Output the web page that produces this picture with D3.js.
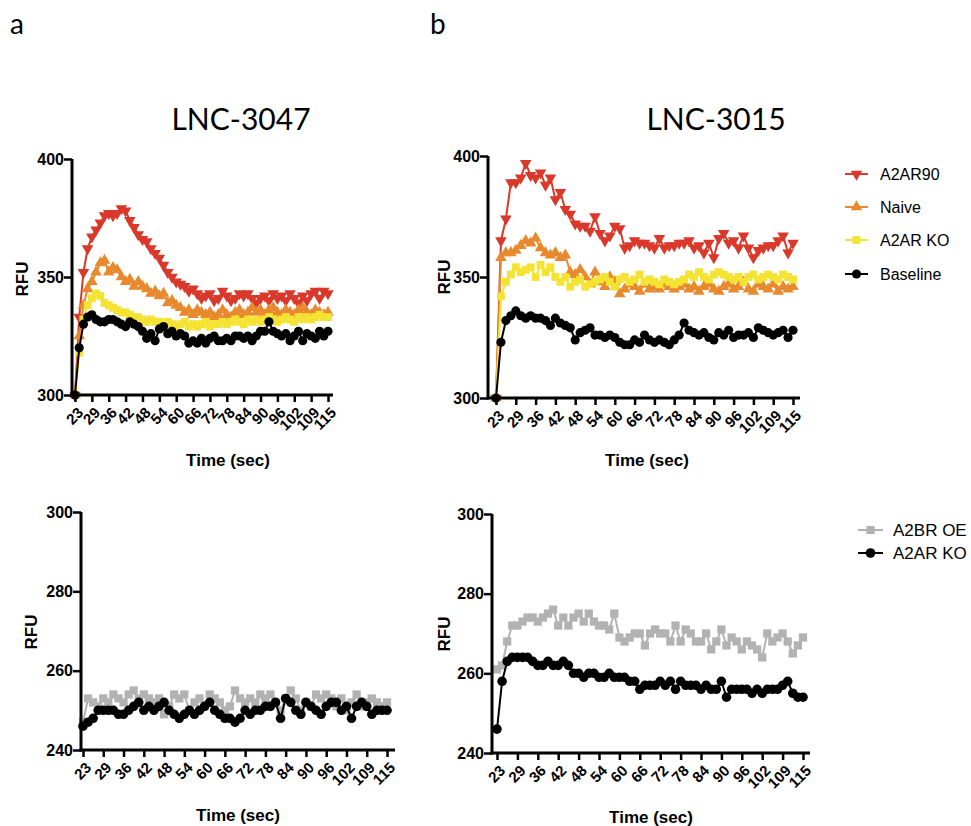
<!DOCTYPE html>
<html>
<head>
<meta charset="utf-8">
<script src="https://cdn.jsdelivr.net/npm/d3@7"></script>
<style>
  html, body { margin: 0; padding: 0; background: #fff; }
  svg { display: block; }
</style>
</head>
<body>
<svg id="chart" width="971" height="826"></svg>
<script>
// ---------------- DATA ----------------
const timeLabels = ["23","29","36","42","48","54","60","66","72","78","84","90","96","102","109","115"];
const timeTickIndex = [0,4,8,12,16,20,24,28,32,36,40,44,48,52,56,60];

const topYTicks = [300, 350, 400];
const bottomYTicks = [240, 260, 280, 300];

// Panel a, top (LNC-3047)
const tlA2AR90 = [300,333,352,362,367,370,373,376,377,376,377,379,378,374,371,368,366,365,362,360,358,355,352,350,348,347,346,344,345,343,341,342,343,340,341,344,342,340,341,343,342,343,341,339,341,342,340,343,341,342,340,343,341,339,342,340,343,344,341,344,343];
const tlNaive   = [300,325,338,345,348,352,356,357,352,354,353,350,348,349,346,348,346,345,343,344,342,343,339,340,338,337,335,336,334,336,335,334,335,333,334,336,334,333,335,336,334,335,337,335,336,334,336,337,335,334,336,335,334,336,337,335,334,336,335,334,335];
const tlA2ARKO  = [300,318,332,338,341,343,342,339,338,337,336,335,335,334,333,333,332,331,332,331,331,330,331,330,329,330,331,329,330,329,330,331,329,330,330,331,330,331,332,331,330,332,331,332,331,332,333,332,331,332,333,332,331,333,332,333,332,333,334,333,333];
const tlBaseline= [300,320,330,333,334,332,331,331,332,332,331,330,329,331,330,329,327,324,326,323,328,329,326,327,325,326,325,322,323,322,324,322,324,325,323,323,324,323,325,325,324,325,323,325,327,327,331,327,326,325,326,323,325,327,323,326,325,324,327,325,327];

// Panel b, top (LNC-3015)
const trA2AR90 = [300,365,374,389,389,391,397,392,391,393,388,391,382,385,378,376,372,371,371,369,375,368,365,367,371,370,362,363,365,364,364,363,362,366,362,363,363,364,364,365,362,363,360,364,358,366,368,364,365,362,367,362,358,361,362,363,363,365,367,360,364];
const trNaive  = [300,358,360,360,361,363,365,364,366,362,360,359,360,358,359,352,351,353,350,347,352,348,346,350,348,343,345,347,346,344,347,345,346,345,347,346,345,346,347,345,346,344,346,347,345,344,346,347,345,346,348,345,344,347,346,345,347,344,346,345,346];
const trA2ARKO = [300,342,348,351,354,352,353,354,350,355,352,354,350,348,350,346,348,349,346,347,348,349,350,348,346,349,350,348,349,351,348,349,348,347,349,348,347,348,349,351,350,352,350,349,351,352,351,350,349,350,348,350,351,349,350,351,350,349,351,350,349];
const trBaseline=[300,323,332,334,336,334,333,334,333,333,332,330,333,331,330,329,324,327,328,329,326,326,325,326,325,323,322,322,324,323,326,324,323,324,323,322,324,326,331,328,327,326,327,325,324,327,326,328,325,326,326,327,325,329,328,327,326,327,328,325,328];

// Panel a, bottom
const blA2BROE = [247,253,252,251,253,252,254,253,252,254,255,253,254,253,252,253,249,251,254,253,254,250,252,253,251,254,253,252,250,251,255,253,252,253,252,254,253,254,252,250,253,255,253,250,252,251,254,253,254,253,251,253,250,252,254,251,252,253,252,251,252];
const blA2ARKO = [246,247,248,250,250,250,250,249,249,250,251,252,250,251,250,251,252,250,249,248,249,250,249,250,251,252,250,249,248,248,247,248,250,249,250,250,251,251,252,248,253,252,250,249,252,251,250,249,251,252,252,250,251,248,251,252,251,249,250,250,250];

// Panel b, bottom
const brA2BROE = [261,262,268,272,272,273,274,274,273,274,275,276,272,274,272,274,275,273,275,273,272,272,271,275,269,268,269,270,270,267,270,271,270,270,268,272,268,271,270,268,268,270,266,268,271,267,269,268,266,268,267,266,264,270,268,269,270,268,265,267,269];
const brA2ARKO = [246,258,263,264,264,264,264,263,262,262,263,262,262,263,262,260,260,259,260,260,259,259,260,259,259,259,258,258,256,257,257,257,258,257,258,256,258,257,257,257,256,257,256,256,258,254,256,256,256,256,255,256,255,256,256,256,257,258,255,254,254];

// ---------------- STYLE / LAYOUT ----------------
const COLORS = { red: "#d9382a", orange: "#e8892e", yellow: "#f4e333", black: "#000000", grey: "#b2b2b2" };
const sans = "Liberation Sans, Arial, sans-serif";

const svg = d3.select("#chart");

function drawPanel(p) {
  const g = svg.append("g");
  const x = d3.scaleLinear().domain([0, 60]).range([p.x0, p.x1]);
  const y = d3.scaleLinear().domain(p.yDomain).range([p.yBot, p.yTop]);

  // series
  const line = d3.line().x((d, i) => x(i)).y(d => y(d));
  p.series.forEach(s => {
    g.append("path")
      .datum(s.values)
      .attr("fill", "none")
      .attr("stroke", s.color)
      .attr("stroke-width", 2)
      .attr("stroke-linejoin", "round")
      .attr("d", line);
    const sym = d3.symbol().type(s.symbol).size(s.size);
    g.selectAll(null)
      .data(s.values)
      .join("path")
      .attr("d", sym)
      .attr("fill", s.color)
      .attr("transform", (d, i) => `translate(${x(i)},${y(d)})` + (s.flip ? " rotate(180)" : ""));
  });

  // x axis
  const xAxis = d3.axisBottom(x).tickValues(timeTickIndex)
    .tickFormat((d, i) => timeLabels[i]).tickSize(7).tickSizeOuter(0);
  const gx = g.append("g").attr("transform", `translate(0,${p.yBot})`).call(xAxis);
  gx.select(".domain").remove();
  gx.selectAll(".tick line").attr("stroke", "#000").attr("stroke-width", 2.5);
  gx.selectAll(".tick text")
    .attr("font-family", sans)
    .attr("font-weight", "bold")
    .attr("font-size", 15)
    .attr("fill", "#000")
    .attr("text-anchor", "end")
    .attr("dy", "0.35em")
    .attr("y", 0)
    .attr("transform", "translate(5,15) rotate(-45)");
  g.append("line")
    .attr("x1", p.axisX - 1.5).attr("x2", p.axisEnd)
    .attr("y1", p.yBot).attr("y2", p.yBot)
    .attr("stroke", "#000").attr("stroke-width", 3);

  // y axis
  const yAxis = d3.axisLeft(y).tickValues(p.yTicks).tickSize(8).tickSizeOuter(0);
  const gy = g.append("g").attr("transform", `translate(${p.axisX},0)`).call(yAxis);
  gy.select(".domain").remove();
  gy.selectAll(".tick line").attr("stroke", "#000").attr("stroke-width", 2.5);
  gy.selectAll(".tick text")
    .attr("font-family", sans)
    .attr("font-weight", "bold")
    .attr("font-size", 16)
    .attr("fill", "#000")
    .attr("x", -8);
  g.append("line")
    .attr("x1", p.axisX).attr("x2", p.axisX)
    .attr("y1", p.yTop).attr("y2", p.yBot + 1.5)
    .attr("stroke", "#000").attr("stroke-width", 3);

  // axis titles
  g.append("text")
    .attr("transform", `translate(${p.rfuX},${p.rfuY}) rotate(-90)`)
    .attr("text-anchor", "middle").attr("dominant-baseline", "central")
    .attr("font-family", sans)
    .attr("font-weight", "bold").attr("font-size", 17)
    .text("RFU");
  g.append("text")
    .attr("x", p.timeX).attr("y", p.timeY)
    .attr("text-anchor", "middle").attr("dominant-baseline", "central")
    .attr("font-family", sans)
    .attr("font-weight", "bold").attr("font-size", 17)
    .text("Time (sec)");
}

const triUp = d3.symbolTriangle;
const topSeries = (a, n, k, b) => [
  { values: a, color: COLORS.red, symbol: triUp, size: 58, flip: true },
  { values: n, color: COLORS.orange, symbol: triUp, size: 58, flip: false },
  { values: k, color: COLORS.yellow, symbol: d3.symbolSquare, size: 62 },
  { values: b, color: COLORS.black, symbol: d3.symbolCircle, size: 66 }
];
const bottomSeries = (o, k) => [
  { values: o, color: COLORS.grey, symbol: d3.symbolSquare, size: 68 },
  { values: k, color: COLORS.black, symbol: d3.symbolCircle, size: 72 }
];

drawPanel({ x0: 75, x1: 328, axisX: 72, axisEnd: 333, yTop: 159, yBot: 395, yDomain: [300, 400], yTicks: topYTicks,
  rfuX: 22, rfuY: 279, timeX: 228, timeY: 460, series: topSeries(tlA2AR90, tlNaive, tlA2ARKO, tlBaseline) });
drawPanel({ x0: 496, x1: 793, axisX: 488, axisEnd: 800, yTop: 156, yBot: 398, yDomain: [300, 400], yTicks: topYTicks,
  rfuX: 444, rfuY: 277, timeX: 647, timeY: 460, series: topSeries(trA2AR90, trNaive, trA2ARKO, trBaseline) });
drawPanel({ x0: 83, x1: 387, axisX: 81, axisEnd: 395, yTop: 512, yBot: 750, yDomain: [240, 300], yTicks: bottomYTicks,
  rfuX: 31, rfuY: 632, timeX: 238, timeY: 815, series: bottomSeries(blA2BROE, blA2ARKO) });
drawPanel({ x0: 497, x1: 803, axisX: 492, axisEnd: 810, yTop: 514, yBot: 753, yDomain: [240, 300], yTicks: bottomYTicks,
  rfuX: 444, rfuY: 634, timeX: 651, timeY: 817, series: bottomSeries(brA2BROE, brA2ARKO) });

// legends
function legend(items, lx0, lx1, tx, ys, fs) {
  items.forEach((it, i) => {
    const yy = ys[i];
    svg.append("line").attr("x1", lx0).attr("x2", lx1).attr("y1", yy).attr("y2", yy)
      .attr("stroke", it.color).attr("stroke-width", 2);
    svg.append("path").attr("d", d3.symbol().type(it.symbol).size(it.size)())
      .attr("fill", it.color)
      .attr("transform", `translate(${(lx0 + lx1) / 2},${yy})` + (it.flip ? " rotate(180)" : ""));
    svg.append("text").attr("x", tx).attr("y", yy).attr("dominant-baseline", "central")
      .attr("font-family", sans).attr("font-size", fs)
      .text(it.name);
  });
}
const topLegendNames = ["A2AR90", "Naive", "A2AR KO", "Baseline"];
const bottomLegendNames = ["A2BR OE", "A2AR KO"];
legend(topSeries([], [], [], []).map((s, i) => ({ ...s, name: topLegendNames[i] })),
  845, 868, 880, [174, 207, 240, 274], 16);
legend(bottomSeries([], []).map((s, i) => ({ ...s, name: bottomLegendNames[i] })),
  858, 883, 893, [530, 553], 17);

// titles and panel letters
const calib = "Lato, 'Open Sans', sans-serif";
svg.append("text").attr("x", 241).attr("y", 130).attr("text-anchor", "middle")
  .attr("font-family", calib).attr("font-size", 30).text("LNC-3047");
svg.append("text").attr("x", 716).attr("y", 130).attr("text-anchor", "middle")
  .attr("font-family", calib).attr("font-size", 30).text("LNC-3015");
svg.append("text").attr("x", 10).attr("y", 34)
  .attr("font-family", calib).attr("font-size", 28).text("a");
svg.append("text").attr("x", 430).attr("y", 34)
  .attr("font-family", calib).attr("font-size", 28).text("b");
</script>
</body>
</html>
